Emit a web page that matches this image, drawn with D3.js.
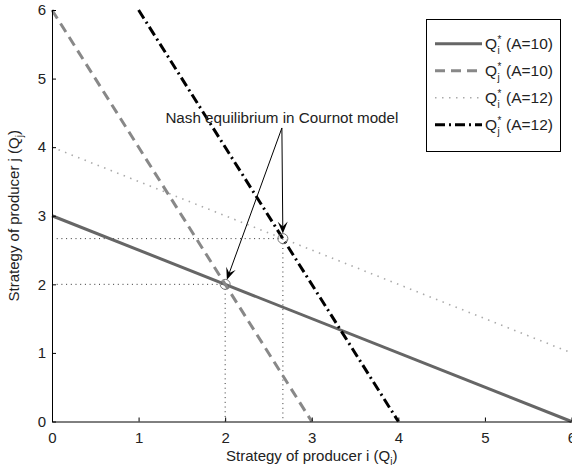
<!DOCTYPE html>
<html>
<head>
<meta charset="utf-8">
<script src="https://d3js.org/d3.v7.min.js"></script>
<style>
  body { margin: 0; background: #fff; }
  text { font-family: "Liberation Sans", Arial, sans-serif; fill: #222; }
</style>
</head>
<body>
<div id="chart"></div>
<script>
// reaction curves, each given by its two end points (Qi, Qj)
const qiA10 = [[0, 3], [6, 0]];
const qjA10 = [[0, 6], [3, 0]];
const qiA12 = [[0, 4], [6, 1]];
const qjA12 = [[1, 6], [4, 0]];

const equilibria = [[2, 2], [8 / 3, 8 / 3]];
const annotationText = "Nash equilibrium in Cournot model";
const annotationFrom = [2.655, 4.28];

const xTicks = [0, 1, 2, 3, 4, 5, 6];
const yTicks = [0, 1, 2, 3, 4, 5, 6];

const seriesNames = [
    { sub: "i", rest: "(A=10)" },
    { sub: "j", rest: "(A=10)" },
    { sub: "i", rest: "(A=12)" },
    { sub: "j", rest: "(A=12)" }
];

// size of plot
const width = 572, height = 468;
const margin = { top: 10, right: 0.5, bottom: 46.5, left: 52 };

const x = d3.scaleLinear().domain([0, 6]).range([margin.left, width - margin.right]);
const y = d3.scaleLinear().domain([0, 6]).range([height - margin.bottom, margin.top]);

const svg = d3.select("#chart").append("svg")
    .attr("width", width)
    .attr("height", height);

// line styles
const styles = [
    { color: "#666", w: 3, dash: null },
    { color: "#888", w: 3, dash: "10,6" },
    { color: "#aaa", w: 1.6, dash: "1.5,5.5" },
    { color: "#000", w: 3, dash: "10,4,2,4" }
];
const series = [qiA10, qjA10, qiA12, qjA12];

// dotted guides from equilibria to the axes
const guides = svg.append("g");
equilibria.forEach(p => {
    guides.append("line")
        .attr("x1", x(0)).attr("x2", x(p[0]))
        .attr("y1", y(p[1])).attr("y2", y(p[1]));
    guides.append("line")
        .attr("x1", x(p[0])).attr("x2", x(p[0]))
        .attr("y1", y(p[1])).attr("y2", y(0));
});
guides.selectAll("line")
    .attr("stroke", "#333")
    .attr("stroke-width", 1)
    .attr("stroke-dasharray", "1,3.7");

const line = d3.line().x(d => x(d[0])).y(d => y(d[1]));

svg.append("g").selectAll("path")
    .data(series)
    .enter().append("path")
        .attr("d", line)
        .attr("fill", "none")
        .attr("stroke", (d, i) => styles[i].color)
        .attr("stroke-width", (d, i) => styles[i].w)
        .attr("stroke-dasharray", (d, i) => styles[i].dash);

// equilibrium markers
svg.append("g").selectAll("circle")
    .data(equilibria)
    .enter().append("circle")
        .attr("cx", d => x(d[0]))
        .attr("cy", d => y(d[1]))
        .attr("r", 5)
        .attr("fill", "none")
        .attr("stroke", "#777")
        .attr("stroke-width", 1);

// axes (ticks point inward)
const xAxis = svg.append("g")
    .attr("transform", `translate(0,${y(0)})`)
    .call(d3.axisBottom(x).tickValues(xTicks).tickFormat(d3.format("d"))
        .tickSizeInner(-4).tickSizeOuter(0).tickPadding(8));
const yAxis = svg.append("g")
    .attr("transform", `translate(${x(0)},0)`)
    .call(d3.axisLeft(y).tickValues(yTicks).tickFormat(d3.format("d"))
        .tickSizeInner(-4).tickSizeOuter(0).tickPadding(8));

[xAxis, yAxis].forEach(a => {
    a.select(".domain").attr("stroke", "#000").attr("stroke-width", 1);
    a.selectAll(".tick line").attr("stroke", "#000");
    a.selectAll(".tick text")
        .attr("font-size", 15)
        .attr("font-family", "Liberation Sans, Arial, sans-serif")
        .attr("fill", "#222");
});
xAxis.selectAll(".tick text").attr("dy", "0.9em");
yAxis.selectAll(".tick text").attr("dx", "2");

// axis labels
const xl = svg.append("text")
    .attr("x", (x(0) + x(6)) / 2)
    .attr("y", 461)
    .attr("text-anchor", "middle")
    .attr("font-size", 15);
xl.append("tspan").text("Strategy of producer i (Q");
xl.append("tspan").attr("font-size", 10).attr("dy", 4).text("i");
xl.append("tspan").attr("dy", -4).text(")");

const yl = svg.append("text")
    .attr("transform", `translate(19,${(y(0) + y(6)) / 2}) rotate(-90)`)
    .attr("text-anchor", "middle")
    .attr("font-size", 15);
yl.append("tspan").text("Strategy of producer j (Q");
yl.append("tspan").attr("font-size", 10).attr("dy", 4).text("j");
yl.append("tspan").attr("dy", -4).text(")");

// annotation with arrows
svg.append("text")
    .attr("x", x(annotationFrom[0]))
    .attr("y", y(annotationFrom[1]) - 5)
    .attr("text-anchor", "middle")
    .attr("font-size", 15.2)
    .text(annotationText);

const arrows = svg.append("g");
equilibria.forEach(p => {
    const x0 = x(annotationFrom[0]), y0 = y(annotationFrom[1]);
    const x1 = x(p[0]), y1 = y(p[1]);
    const ang = Math.atan2(y1 - y0, x1 - x0);
    const tx = x1 - 5 * Math.cos(ang), ty = y1 - 5 * Math.sin(ang);
    arrows.append("line")
        .attr("x1", x0).attr("y1", y0)
        .attr("x2", tx - 6 * Math.cos(ang)).attr("y2", ty - 6 * Math.sin(ang))
        .attr("stroke", "#000").attr("stroke-width", 1);
    arrows.append("path")
        .attr("d", "M0,0 L-12,-5 L-7,0 L-12,5 Z")
        .attr("transform", `translate(${tx},${ty}) rotate(${ang * 180 / Math.PI})`)
        .attr("fill", "#000");
});

// legend
const lg = svg.append("g");
lg.append("rect")
    .attr("x", 426.5).attr("y", 19.5)
    .attr("width", 134).attr("height", 132)
    .attr("fill", "#fff")
    .attr("stroke", "#000")
    .attr("stroke-width", 1);

const item = lg.selectAll("g.item")
    .data(seriesNames)
    .enter().append("g")
        .attr("class", "item")
        .attr("transform", (d, i) => `translate(0,${43.7 + i * 27})`);

item.append("line")
    .attr("x1", 435).attr("x2", 482)
    .attr("stroke", (d, i) => styles[i].color)
    .attr("stroke-width", (d, i) => styles[i].w)
    .attr("stroke-dasharray", (d, i) => styles[i].dash);

item.append("text")
    .attr("x", 485).attr("y", 5.5)
    .attr("font-size", 15.5)
    .text("Q");
item.append("text")
    .attr("x", 497.5).attr("y", -1)
    .attr("font-size", 10)
    .text("*");
item.append("text")
    .attr("x", 497.5).attr("y", 10)
    .attr("font-size", 10)
    .text(d => d.sub);
item.append("text")
    .attr("x", 506).attr("y", 5.5)
    .attr("font-size", 15.5)
    .text(d => d.rest);
</script>
</body>
</html>
